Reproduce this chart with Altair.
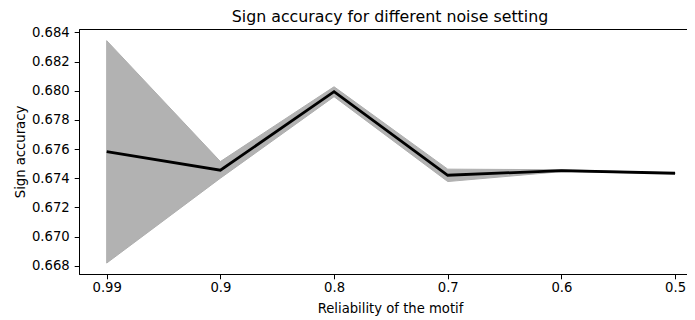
import altair as alt
import pandas as pd

reliability = ["0.99", "0.9", "0.8", "0.7", "0.6", "0.5"]
accuracy = [0.67582, 0.67455, 0.67993, 0.67420, 0.67452, 0.67434]
band_low = [0.66818, 0.67400, 0.67959, 0.67377, 0.67445, 0.67432]
band_high = [0.68343, 0.67514, 0.68027, 0.67462, 0.67458, 0.67436]
y_ticks = [0.668, 0.670, 0.672, 0.674, 0.676, 0.678, 0.680, 0.682, 0.684]

df = pd.DataFrame({
    "idx": list(range(len(reliability))),
    "rel": reliability,
    "acc": accuracy,
    "lo": band_low,
    "hi": band_high,
})

FONT = "DejaVu Sans"
label_expr = "[" + ",".join("'%s'" % r for r in reliability) + "][datum.value]"

x_enc = alt.X(
    "idx:Q",
    scale=alt.Scale(domain=[-0.2437, 5.105], nice=False, zero=False),
    axis=alt.Axis(
        title="Reliability of the motif",
        values=list(range(len(reliability))),
        labelExpr=label_expr,
        labelAngle=0,
        titleX=311,
        titleY=38,
        titleBaseline="alphabetic",
    ),
)

y_axis = alt.Axis(
    title="Sign accuracy",
    values=y_ticks,
    format=".3f",
    labelOverlap=False,
    titleX=-55,
    titleBaseline="alphabetic",
)
y_scale = alt.Scale(domain=[0.66743, 0.68423], nice=False, zero=False)

band = alt.Chart(df).mark_area(
    color="#a0a0a0", opacity=0.8, stroke="#9a9a9a", strokeWidth=1
).encode(
    x=x_enc,
    y=alt.Y("lo:Q", scale=y_scale, axis=y_axis),
    y2="hi:Q",
)

line = alt.Chart(df).mark_line(color="black", strokeWidth=2.8).encode(
    x=x_enc,
    y=alt.Y("acc:Q", scale=y_scale, axis=y_axis),
)

chart = (
    alt.layer(band, line)
    .properties(
        width=608,
        height=245,
        autosize=alt.AutoSizeParams(type="none"),
        padding={"left": 71, "top": 21, "right": 0, "bottom": 44},
        title=alt.TitleParams(
            "Sign accuracy for different noise setting",
            font=FONT,
            fontSize=15.8,
            fontWeight="normal",
            color="black",
            frame="group",
            offset=0,
            dx=7,
        ),
    )
    .configure_view(stroke="black", strokeWidth=1)
    .configure_axis(
        grid=False,
        domainColor="black",
        tickColor="black",
        tickSize=4.8,
        labelFont=FONT,
        labelFontSize=13.2,
        labelColor="black",
        titleFont=FONT,
        titleFontSize=13.2,
        titleFontWeight="normal",
        titleColor="black",
    )
    .configure_axisY(labelPadding=5, labelOverlap=False)
    .configure_axisX(labelPadding=3)
)

chart.save("out.html", embed_options={"renderer": "svg", "actions": False})
